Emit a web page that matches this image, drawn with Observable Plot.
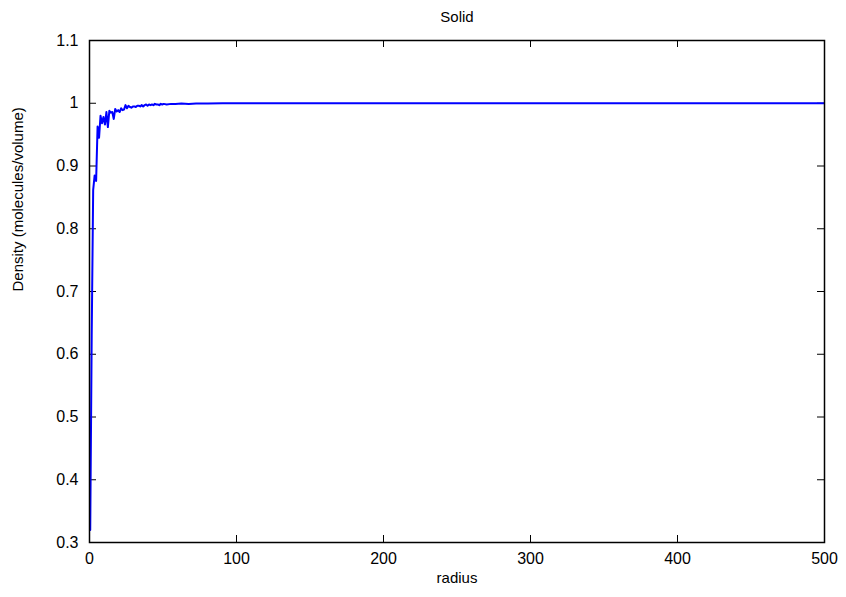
<!DOCTYPE html>
<html>
<head>
<meta charset="utf-8">
<script src="https://cdn.jsdelivr.net/npm/d3@7"></script>
<script src="https://cdn.jsdelivr.net/npm/@observablehq/plot@0.6"></script>
<style>
  html, body { margin: 0; padding: 0; background: #fff; }
</style>
</head>
<body>
<div id="chart"></div>
<script>
const title = "Solid";
const xLabel = "radius";
const yLabel = "Density (molecules/volume)";
const xTicks = [0, 100, 200, 300, 400, 500];
const yTicks = [0.3, 0.4, 0.5, 0.6, 0.7, 0.8, 0.9, 1.0, 1.1];

const radius = [
  0.5, 1.5, 2.5, 3.5, 4.5, 5.5, 6.5, 7.5, 8.5, 9.5,
  10.5, 11.5, 12.5, 13.5, 14.5, 15.5, 16.5, 17.5, 18.5, 19.5,
  20.5, 21.5, 22.5, 23.5, 24.5, 25.5, 26.5, 27.5, 28.5, 29.5,
  30.5, 31.5, 32.5, 33.5, 34.5, 35.5, 36.5, 37.5, 38.5, 39.5,
  40.5, 41.5, 42.5, 43.5, 44.5, 45.5, 46.5, 47.5, 48.5, 49.5,
  50.5, 52.5, 55.5, 58.5, 62.5, 67.5, 72.5, 80.5, 90.5, 100.5,
  125.5, 150.5, 200.5, 250.5, 300.5, 350.5, 400.5, 450.5, 499.5
];
const density = [
  0.320, 0.630, 0.862, 0.885, 0.876, 0.963, 0.945, 0.980, 0.968, 0.978,
  0.966, 0.986, 0.962, 0.988, 0.985, 0.986, 0.975, 0.991, 0.987, 0.989,
  0.986, 0.992, 0.989, 0.990, 0.997, 0.992, 0.996, 0.994, 0.993, 0.995,
  0.995, 0.994, 0.996, 0.996, 0.995, 0.997, 0.995, 0.997, 0.998, 0.996,
  0.998, 0.997, 0.998, 0.997, 0.999, 0.998, 0.998, 0.997, 0.999, 0.998,
  0.999, 0.998, 0.999, 0.999, 0.9995, 0.999, 0.9995, 0.9995, 1.000, 1.000,
  1.000, 1.000, 1.000, 1.000, 1.000, 1.000, 1.000, 1.000, 1.000
];

const data = radius.map((r, i) => ({r, d: density[i]}));

const W = 846, H = 597;
const mL = 89, mR = 22, mT = 40, mB = 55;
const plotH = H - mT - mB;
const plotW = W - mL - mR;
const tick = 7;

const chart = Plot.plot({
  width: W,
  height: H,
  marginLeft: mL,
  marginRight: mR,
  marginTop: mT,
  marginBottom: mB,
  style: {fontFamily: "'Liberation Sans', Arial, sans-serif", fontSize: "16px", background: "#fff", color: "#000"},
  x: {domain: [0, 500], label: null},
  y: {domain: [0.3, 1.1], label: null},
  marks: [
    Plot.axisX(xTicks, {tickSize: 0, tickPadding: 10, tickFormat: d3.format("~g"), fontSize: 16}),
    Plot.axisY(yTicks, {tickSize: 0, tickPadding: 11, tickFormat: d3.format("~g"), fontSize: 16}),
    Plot.tickX(xTicks, {x: d => d, stroke: "black", insetTop: plotH - tick}),
    Plot.tickX(xTicks, {x: d => d, stroke: "black", insetBottom: plotH - tick}),
    Plot.tickY(yTicks, {y: d => d, stroke: "black", insetRight: plotW - tick}),
    Plot.tickY(yTicks, {y: d => d, stroke: "black", insetLeft: plotW - tick}),
    Plot.line(data, {x: "r", y: "d", stroke: "#0000ff", strokeWidth: 2}),
    Plot.frame({stroke: "black", strokeWidth: 1.5}),
    Plot.text([title], {frameAnchor: "top", dy: -29, fontSize: 15}),
    Plot.text([xLabel], {frameAnchor: "bottom", dy: 40, fontSize: 15}),
    Plot.text([yLabel], {frameAnchor: "left", dx: -71, rotate: -90, fontSize: 15})
  ]
});
document.getElementById("chart").appendChild(chart);
</script>
</body>
</html>
